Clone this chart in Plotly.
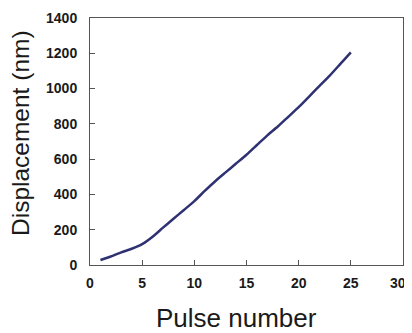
import plotly.graph_objects as go

pulse = list(range(1, 26))
displacement = [28, 48, 72, 92, 118, 160, 212, 262, 312, 362, 420, 475, 525,
                575, 625, 680, 735, 785, 840, 895, 955, 1015, 1075, 1140, 1205]

x_ticks = [0, 5, 10, 15, 20, 25, 30]
x_tick_text = ["0", "5", "10", "15", "20", "25", "30\u2007\u2009"]
y_ticks = [0, 200, 400, 600, 800, 1000, 1200, 1400]

# plot-area geometry in page pixels (page body adds an 8px offset)
OFF = 8
PL, PR, PT, PB = 90, 403, 18, 265
W, H = 404, 325

fig = go.Figure()
fig.add_trace(go.Scatter(x=pulse, y=displacement, mode="lines",
                         line=dict(color="#2E3172", width=2.5, shape="spline", smoothing=0.6)))

axis_common = dict(showline=True, linecolor="#555555", linewidth=1, mirror=True,
                   ticks="inside", ticklen=5, tickcolor="#555555", showgrid=False,
                   zeroline=False, automargin=False, ticklabeloverflow="allow",
                   tickfont=dict(family="Liberation Sans", size=14, color="#1a1a1a", weight="bold"))

pw, ph = PR - PL, PB - PT
fig.update_layout(
    width=W, height=H,
    margin=dict(l=PL - OFF, r=W - (PR - OFF), t=PT - OFF, b=H - (PB - OFF)),
    paper_bgcolor="white", plot_bgcolor="white",
    showlegend=False,
    xaxis=dict(range=[0, 30], tickvals=x_ticks, ticktext=x_tick_text, ticklabelstandoff=5,
               **axis_common),
    yaxis=dict(range=[0, 1400], tickvals=y_ticks, ticklabelstandoff=9, **axis_common),
    annotations=[
        dict(text="Pulse number", xref="paper", yref="paper",
             x=(236 - PL) / pw, y=0, xanchor="center", yanchor="top", yshift=-36,
             showarrow=False,
             font=dict(family="Liberation Sans", size=26, color="#1a1a1a")),
        dict(text="Displacement (nm)", xref="paper", yref="paper", textangle=-90,
             x=(21 - PL) / pw, y=(PB - 133) / ph, xanchor="center", yanchor="middle",
             showarrow=False,
             font=dict(family="Liberation Sans", size=24.5, color="#1a1a1a")),
    ],
)

fig.write_html("out.html")
